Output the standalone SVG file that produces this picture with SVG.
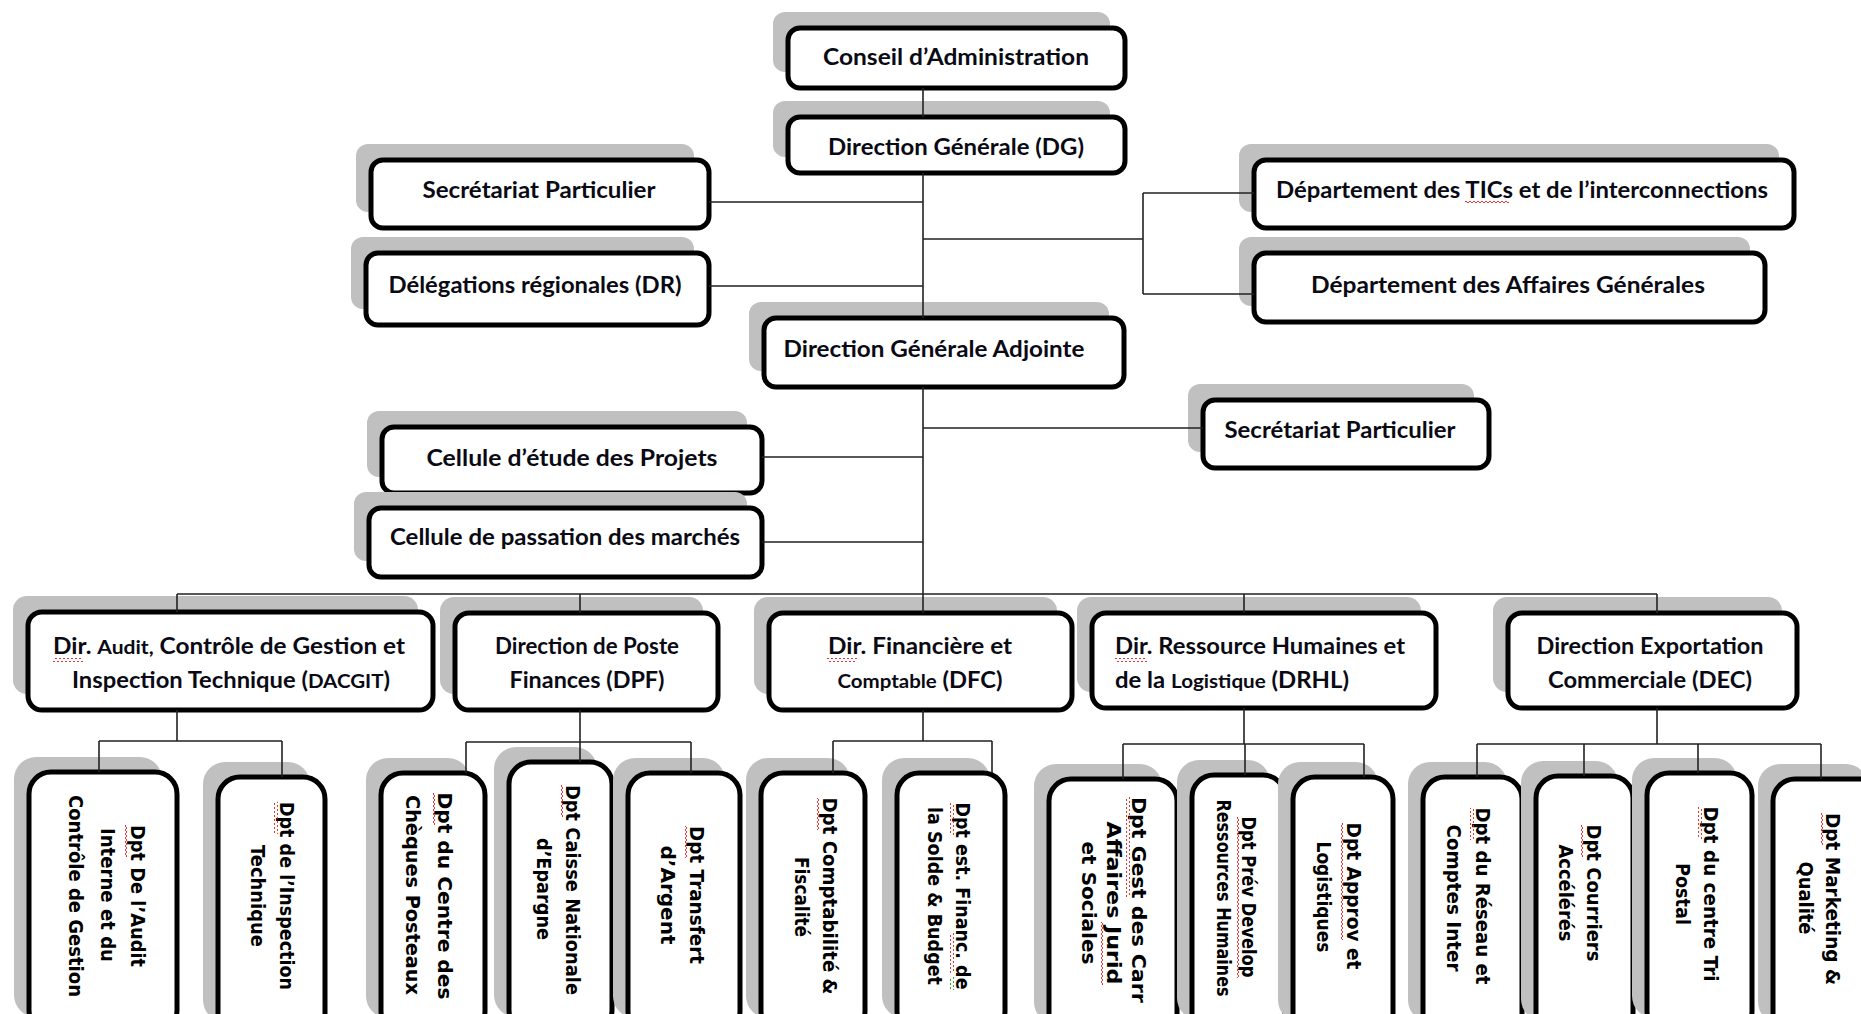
<svg xmlns="http://www.w3.org/2000/svg" width="1861" height="1014" viewBox="0 0 1861 1014">
<style>
.sh{fill:#c0c0c0}
.bx{fill:#fff;stroke:#000;stroke-width:5}
.t{font-family:Lato,"Liberation Sans",sans-serif;font-weight:bold;font-size:22px;fill:#0a0a14;text-anchor:middle}
.v{font-family:"DejaVu Sans","Liberation Sans",sans-serif;font-weight:bold;font-size:19px;fill:#000;text-anchor:middle}
.ln{stroke:#222;stroke-width:1.6;fill:none}
.sqh{fill:url(#zigH)}
.sqv{fill:url(#zigV)}
.sqg{fill:url(#zigG)}
</style>
<defs>
<pattern id="zigH" width="4" height="4" patternUnits="userSpaceOnUse"><polyline points="0,3 2,1 4,3" fill="none" stroke="#e02020" stroke-width="0.9"/></pattern>
<pattern id="zigV" width="4" height="4" patternUnits="userSpaceOnUse"><polyline points="3,0 1,2 3,4" fill="none" stroke="#e02020" stroke-width="0.9"/></pattern>
<pattern id="zigG" width="4" height="4" patternUnits="userSpaceOnUse"><polyline points="3,0 1,2 3,4" fill="none" stroke="#20a020" stroke-width="0.9"/></pattern>
</defs>
<rect width="1861" height="1014" fill="#fff"/>

<g id="conseil"><rect class="sh" x="773" y="12" width="337" height="60" rx="12"/><rect class="bx" x="788" y="28" width="337" height="60" rx="12"/><text class="t" x="956" y="65" textLength="266" lengthAdjust="spacingAndGlyphs">Conseil d’Administration</text></g>
<g id="dg"><rect class="sh" x="773" y="101" width="337" height="56" rx="12"/><rect class="bx" x="788" y="117" width="337" height="56" rx="12"/><text class="t" x="956" y="155" textLength="256" lengthAdjust="spacingAndGlyphs">Direction Générale (DG)</text></g>
<g id="secretariat-dg"><rect class="sh" x="356" y="144" width="338" height="68" rx="12"/><rect class="bx" x="371" y="160" width="338" height="68" rx="12"/><text class="t" x="539" y="198" textLength="233" lengthAdjust="spacingAndGlyphs">Secrétariat Particulier</text></g>
<g id="delegations"><rect class="sh" x="351" y="237" width="343" height="72" rx="12"/><rect class="bx" x="366" y="253" width="343" height="72" rx="12"/><text class="t" x="535" y="293" textLength="293" lengthAdjust="spacingAndGlyphs">Délégations régionales (DR)</text></g>
<g id="dept-tics"><rect class="sh" x="1239" y="144" width="540" height="68" rx="12"/><rect class="bx" x="1254" y="160" width="540" height="68" rx="12"/><text class="t" x="1522" y="198" textLength="492" lengthAdjust="spacingAndGlyphs">Département des TICs et de l’interconnections</text><rect class="sqh" x="1465" y="201" width="44" height="4"/></g>
<g id="dept-ag"><rect class="sh" x="1239" y="237" width="511" height="69" rx="12"/><rect class="bx" x="1254" y="253" width="511" height="69" rx="12"/><text class="t" x="1508" y="293" textLength="394" lengthAdjust="spacingAndGlyphs">Département des Affaires Générales</text></g>
<g id="dga"><rect class="sh" x="749" y="302" width="360" height="69" rx="12"/><rect class="bx" x="764" y="318" width="360" height="69" rx="12"/><text class="t" x="934" y="357" textLength="301" lengthAdjust="spacingAndGlyphs">Direction Générale Adjointe</text></g>
<g id="secretariat-dga"><rect class="sh" x="1188" y="384" width="286" height="68" rx="12"/><rect class="bx" x="1203" y="400" width="286" height="68" rx="12"/><text class="t" x="1340" y="438" textLength="231" lengthAdjust="spacingAndGlyphs">Secrétariat Particulier</text></g>
<g id="cellule-projets"><rect class="sh" x="367" y="411" width="380" height="66" rx="12"/><rect class="bx" x="382" y="427" width="380" height="66" rx="12"/><text class="t" x="572" y="466" textLength="291" lengthAdjust="spacingAndGlyphs">Cellule d’étude des Projets</text></g>
<g id="cellule-marches"><rect class="sh" x="354" y="492" width="393" height="69" rx="12"/><rect class="bx" x="369" y="508" width="393" height="69" rx="12"/><text class="t" x="565" y="545" textLength="350" lengthAdjust="spacingAndGlyphs">Cellule de passation des marchés</text></g>

<g id="dacgit"><rect class="sh" x="13" y="596" width="405" height="98" rx="14"/><rect class="bx" x="28" y="612" width="405" height="98" rx="14"/>
<text class="t" x="229" y="654" textLength="352" lengthAdjust="spacingAndGlyphs">Dir. <tspan font-size="19">Audit,</tspan> Contrôle de Gestion et</text>
<text class="t" x="231" y="688" textLength="318" lengthAdjust="spacingAndGlyphs">Inspection Technique (<tspan font-size="19">DACGIT</tspan>)</text><rect class="sqh" x="53" y="658" width="30" height="4"/></g>
<g id="dpf"><rect class="sh" x="440" y="597" width="263" height="97" rx="14"/><rect class="bx" x="455" y="613" width="263" height="97" rx="14"/>
<text class="t" x="587" y="654" font-size="19" textLength="184" lengthAdjust="spacingAndGlyphs">Direction de Poste</text>
<text class="t" x="587" y="688" textLength="155" lengthAdjust="spacingAndGlyphs">Finances (DPF)</text></g>
<g id="dfc"><rect class="sh" x="754" y="597" width="303" height="97" rx="14"/><rect class="bx" x="769" y="613" width="303" height="97" rx="14"/>
<text class="t" x="920" y="654" textLength="184" lengthAdjust="spacingAndGlyphs">Dir. Financière et</text>
<text class="t" x="920" y="688" textLength="165" lengthAdjust="spacingAndGlyphs"><tspan font-size="19">Comptable</tspan> (DFC)</text><rect class="sqh" x="827" y="658" width="30" height="4"/></g>
<g id="drhl"><rect class="sh" x="1077" y="597" width="344" height="95" rx="14"/><rect class="bx" x="1092" y="613" width="344" height="95" rx="14"/>
<text class="t" x="1115" y="654" style="text-anchor:start" textLength="290" lengthAdjust="spacingAndGlyphs">Dir. Ressource Humaines et</text>
<text class="t" x="1115" y="688" style="text-anchor:start" textLength="234" lengthAdjust="spacingAndGlyphs">de la <tspan font-size="19">Logistique</tspan> (DRHL)</text><rect class="sqh" x="1115" y="658" width="32" height="4"/></g>
<g id="dec"><rect class="sh" x="1493" y="597" width="289" height="95" rx="14"/><rect class="bx" x="1508" y="613" width="289" height="95" rx="14"/>
<text class="t" x="1650" y="654" textLength="227" lengthAdjust="spacingAndGlyphs">Direction Exportation</text>
<text class="t" x="1650" y="688" textLength="204" lengthAdjust="spacingAndGlyphs">Commerciale (DEC)</text></g>

<g id="dpt-audit"><rect class="sh" x="14" y="757" width="148" height="260" rx="22"/><rect class="bx" x="29" y="772" width="148" height="260" rx="22"/>
<text class="v" transform="translate(131,896) rotate(90)" textLength="142" lengthAdjust="spacingAndGlyphs">Dpt De l’Audit</text>
<text class="v" transform="translate(101,895) rotate(90)" textLength="134" lengthAdjust="spacingAndGlyphs">Interne et du</text>
<text class="v" transform="translate(69,896) rotate(90)" textLength="202" lengthAdjust="spacingAndGlyphs">Contrôle de Gestion</text><rect class="sqv" x="125" y="825" width="4" height="32"/></g>
<g id="dpt-inspection"><rect class="sh" x="203" y="762" width="107" height="260" rx="22"/><rect class="bx" x="218" y="777" width="107" height="260" rx="22"/>
<text class="v" transform="translate(280,896) rotate(90)" textLength="188" lengthAdjust="spacingAndGlyphs">Dpt de l’Inspection</text>
<text class="v" transform="translate(251,896) rotate(90)" textLength="102" lengthAdjust="spacingAndGlyphs">Technique</text><rect class="sqv" x="274" y="802" width="4" height="32"/></g>
<g id="dpt-cheques"><rect class="sh" x="366" y="758" width="104" height="260" rx="22"/><rect class="bx" x="381" y="773" width="104" height="260" rx="22"/>
<text class="v" transform="translate(438,896) rotate(90)" textLength="207" lengthAdjust="spacingAndGlyphs">Dpt du Centre des</text>
<text class="v" transform="translate(406,895) rotate(90)" textLength="200" lengthAdjust="spacingAndGlyphs">Chèques Posteaux</text><rect class="sqv" x="432" y="793" width="4" height="32"/></g>
<g id="dpt-caisse"><rect class="sh" x="494" y="747" width="103" height="270" rx="22"/><rect class="bx" x="509" y="762" width="103" height="270" rx="22"/>
<text class="v" transform="translate(566,890) rotate(90)" textLength="210" lengthAdjust="spacingAndGlyphs">Dpt Caisse Nationale</text>
<text class="v" transform="translate(537,889) rotate(90)" textLength="102" lengthAdjust="spacingAndGlyphs">d’Epargne</text><rect class="sqv" x="560" y="785" width="4" height="32"/></g>
<g id="dpt-transfert"><rect class="sh" x="613" y="758" width="112" height="260" rx="22"/><rect class="bx" x="628" y="773" width="112" height="260" rx="22"/>
<text class="v" transform="translate(690,895) rotate(90)" textLength="138" lengthAdjust="spacingAndGlyphs">Dpt Transfert</text>
<text class="v" transform="translate(661,895) rotate(90)" textLength="99" lengthAdjust="spacingAndGlyphs">d’Argent</text><rect class="sqv" x="684" y="826" width="4" height="32"/></g>
<g id="dpt-compta"><rect class="sh" x="746" y="758" width="104" height="260" rx="22"/><rect class="bx" x="761" y="773" width="104" height="260" rx="22"/>
<text class="v" transform="translate(823,896) rotate(90)" textLength="197" lengthAdjust="spacingAndGlyphs">Dpt Comptabilité &amp;</text>
<text class="v" transform="translate(795,897) rotate(90)" textLength="80" lengthAdjust="spacingAndGlyphs">Fiscalité</text><rect class="sqv" x="817" y="798" width="4" height="32"/></g>
<g id="dpt-solde"><rect class="sh" x="882" y="758" width="108" height="260" rx="22"/><rect class="bx" x="897" y="773" width="108" height="260" rx="22"/>
<text class="v" transform="translate(956,896) rotate(90)" textLength="187" lengthAdjust="spacingAndGlyphs">Dpt est. Financ. de</text>
<text class="v" transform="translate(928,896) rotate(90)" textLength="178" lengthAdjust="spacingAndGlyphs">la Solde &amp; Budget</text><rect class="sqv" x="950" y="803" width="4" height="32"/><rect class="sqv" x="950" y="933" width="4" height="40"/><rect class="sqg" x="950" y="977" width="4" height="13"/></g>
<g id="dpt-carrieres"><rect class="sh" x="1034" y="764" width="128" height="260" rx="22"/><rect class="bx" x="1049" y="779" width="128" height="260" rx="22"/>
<text class="v" transform="translate(1132,900) rotate(90)" textLength="206" lengthAdjust="spacingAndGlyphs">Dpt Gest des Carr</text>
<text class="v" transform="translate(1107,903) rotate(90)" textLength="163" lengthAdjust="spacingAndGlyphs">Affaires Jurid</text>
<text class="v" transform="translate(1082,903) rotate(90)" textLength="123" lengthAdjust="spacingAndGlyphs">et Sociales</text><rect class="sqv" x="1126" y="797" width="4" height="100"/><rect class="sqv" x="1101" y="922" width="4" height="63"/></g>
<g id="dpt-rh"><rect class="sh" x="1177" y="760" width="93" height="260" rx="22"/><rect class="bx" x="1192" y="775" width="93" height="260" rx="22"/>
<text class="v" transform="translate(1242,897) rotate(90)" textLength="161" lengthAdjust="spacingAndGlyphs">Dpt Prév Develop</text>
<text class="v" transform="translate(1217,898) rotate(90)" font-size="15" textLength="197" lengthAdjust="spacingAndGlyphs">Ressources Humaines</text><rect class="sqv" x="1236" y="817" width="4" height="161"/></g>
<g id="dpt-approv"><rect class="sh" x="1278" y="762" width="100" height="260" rx="22"/><rect class="bx" x="1293" y="777" width="100" height="260" rx="22"/>
<text class="v" transform="translate(1347,896) rotate(90)" textLength="147" lengthAdjust="spacingAndGlyphs">Dpt Approv et</text>
<text class="v" transform="translate(1317,897) rotate(90)" textLength="111" lengthAdjust="spacingAndGlyphs">Logistiques</text><rect class="sqv" x="1341" y="823" width="4" height="117"/></g>
<g id="dpt-reseau"><rect class="sh" x="1408" y="762" width="99" height="260" rx="22"/><rect class="bx" x="1423" y="777" width="99" height="260" rx="22"/>
<text class="v" transform="translate(1476,896) rotate(90)" textLength="177" lengthAdjust="spacingAndGlyphs">Dpt du Réseau et</text>
<text class="v" transform="translate(1447,898) rotate(90)" textLength="147" lengthAdjust="spacingAndGlyphs">Comptes Inter</text><rect class="sqv" x="1470" y="808" width="4" height="32"/></g>
<g id="dpt-courriers"><rect class="sh" x="1521" y="761" width="97" height="260" rx="22"/><rect class="bx" x="1536" y="776" width="97" height="260" rx="22"/>
<text class="v" transform="translate(1587,893) rotate(90)" textLength="137" lengthAdjust="spacingAndGlyphs">Dpt Courriers</text>
<text class="v" transform="translate(1559,893) rotate(90)" textLength="97" lengthAdjust="spacingAndGlyphs">Accélérés</text><rect class="sqv" x="1581" y="825" width="4" height="32"/></g>
<g id="dpt-tri"><rect class="sh" x="1632" y="758" width="105" height="260" rx="22"/><rect class="bx" x="1647" y="773" width="105" height="260" rx="22"/>
<text class="v" transform="translate(1704,894) rotate(90)" textLength="175" lengthAdjust="spacingAndGlyphs">Dpt du centre Tri</text>
<text class="v" transform="translate(1676,894) rotate(90)" textLength="62" lengthAdjust="spacingAndGlyphs">Postal</text><rect class="sqv" x="1698" y="807" width="4" height="32"/></g>
<g id="dpt-marketing"><rect class="sh" x="1758" y="764" width="110" height="260" rx="22"/><rect class="bx" x="1773" y="779" width="110" height="260" rx="22"/>
<text class="v" transform="translate(1826,899) rotate(90)" textLength="172" lengthAdjust="spacingAndGlyphs">Dpt Marketing &amp;</text>
<text class="v" transform="translate(1799,898) rotate(90)" textLength="73" lengthAdjust="spacingAndGlyphs">Qualité</text><rect class="sqv" x="1820" y="813" width="4" height="32"/></g>

<g id="connectors" class="ln">
<path d="M923 88V117M923 173V318M709 202H923M709 286H923M923 239H1143M1143 193V294M1143 193H1254M1143 294H1254"/>
<path d="M923 387V613M923 428H1203M762 457H923M762 542H923"/>
<path d="M177 594H1657M177 594V612M580 594V613M1244 594V613M1657 594V613"/>
<path d="M177 710V741M99 741H282M99 741V772M282 741V777"/>
<path d="M580 710V742M466 742H691M466 742V773M580 742V762M691 742V773"/>
<path d="M923 710V741M833 741H992M833 741V773M992 741V773"/>
<path d="M1244 708V744M1123 744H1364M1123 744V779M1245 744V775M1364 744V777"/>
<path d="M1657 708V744M1477 744H1821M1477 744V777M1584 744V776M1698 744V773M1821 744V779"/>
</g>
</svg>
